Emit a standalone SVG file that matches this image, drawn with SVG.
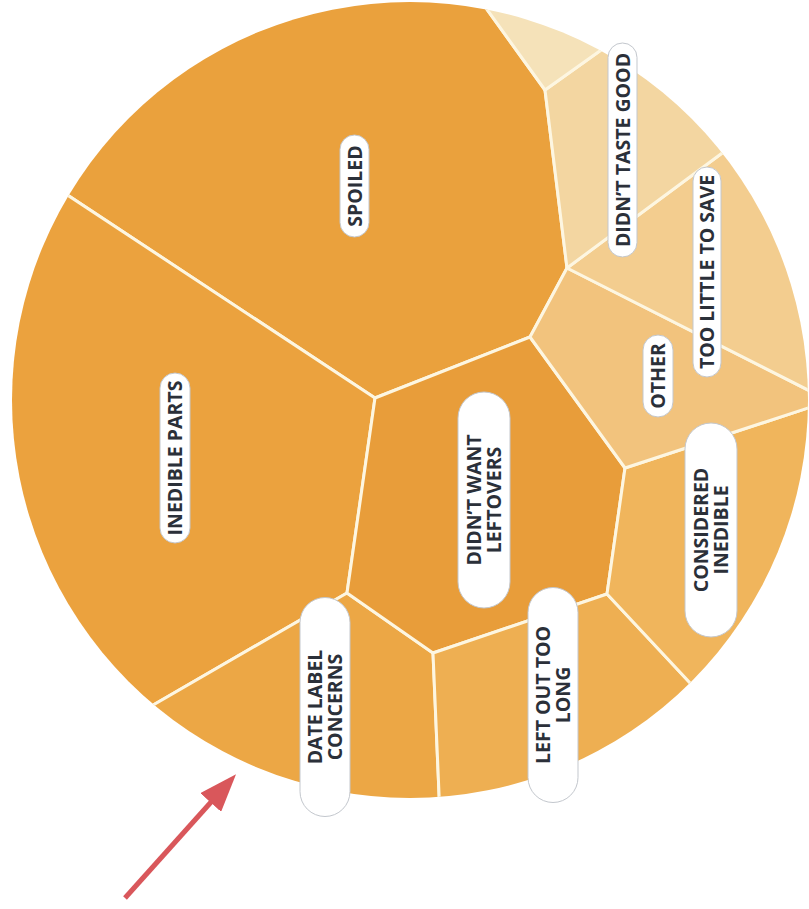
<svg xmlns="http://www.w3.org/2000/svg" width="809" height="909" viewBox="0 0 809 909">
  <style>
    .cell { stroke: #fdf6e1; stroke-width: 3; stroke-linejoin: round; }
    .pill { fill: #ffffff; stroke: #c3c7cd; stroke-width: 1; }
    .lbl { font-family: "Open Sans", "Noto Sans", "Liberation Sans", sans-serif; font-weight: 700; font-size: 19.5px; fill: #2b3039; text-anchor: middle; }
    .arrow { stroke: #d9575b; stroke-width: 5; fill: none; }
  </style>
  <defs>
    <clipPath id="disc">
      <circle cx="410" cy="400" r="398"/>
    </clipPath>
    <marker id="head" markerUnits="userSpaceOnUse" markerWidth="40" markerHeight="28" viewBox="0 0 40 28" refX="2" refY="14" orient="auto">
      <path d="M0,0 L38,14 L0,28 Z" fill="#d9575b"/>
    </marker>
  </defs>

  <rect width="809" height="909" fill="#ffffff"/>

  <!-- cells of the disc, each clipped to the circle -->
  <g clip-path="url(#disc)">
    <g id="spoiled">
      <polygon class="cell" fill="#eaa13d" points="31,171 375,398 530,337 567,268 545,90 473,-10 -10,-10 -10,171"/>
    </g>
    <g id="inedible-parts">
      <polygon class="cell" fill="#eba23e" points="31,171 375,398 347,593 110,730 -10,730 -10,171"/>
    </g>
    <g id="date-label-concerns">
      <polygon class="cell" fill="#eca745" points="347,593 433,653 441,840 110,840 110,730"/>
    </g>
    <g id="didnt-want-leftovers">
      <polygon class="cell" fill="#e89d3a" points="375,398 530,337 625,468 607,594 433,653 347,593"/>
    </g>
    <g id="left-out-too-long">
      <polygon class="cell" fill="#eeaf52" points="433,653 607,594 720,715 720,840 441,840"/>
    </g>
    <g id="considered-inedible">
      <polygon class="cell" fill="#f0b55c" points="625,468 815,405.7 840,405 840,715 720,715 607,594"/>
    </g>
    <g id="other">
      <polygon class="cell" fill="#f2c37d" points="567,268 815,393.5 815,405.7 625,468 530,337"/>
    </g>
    <g id="too-little-to-save">
      <polygon class="cell" fill="#f3cd8f" points="567,268 760,125 850,125 850,411.3"/>
    </g>
    <g id="didnt-taste-good">
      <polygon class="cell" fill="#f3d6a1" points="545,90 625,33 760,125 567,268"/>
    </g>
    <g id="small-top">
      <polygon class="cell" fill="#f5e2b9" points="473,-10 545,90 625,33 625,-10"/>
    </g>
  </g>

  <!-- labels, rotated to read bottom-to-top -->
  <g id="label-spoiled" transform="translate(354.5,186) rotate(-90)">
    <rect class="pill" x="-51" y="-14.5" width="102" height="29" rx="14.5"/>
    <text class="lbl" x="0" y="7">SPOILED</text>
  </g>
  <g id="label-didnt-taste-good" transform="translate(622.5,150) rotate(-90)">
    <rect class="pill" x="-107" y="-14.5" width="214" height="29" rx="14.5"/>
    <text class="lbl" x="0" y="7">DIDN’T TASTE GOOD</text>
  </g>
  <g id="label-too-little-to-save" transform="translate(707,272) rotate(-90)">
    <rect class="pill" x="-105" y="-14" width="210" height="28" rx="14"/>
    <text class="lbl" x="0" y="7">TOO LITTLE TO SAVE</text>
  </g>
  <g id="label-other" transform="translate(658,376) rotate(-90)">
    <rect class="pill" x="-41" y="-15" width="82" height="30" rx="15"/>
    <text class="lbl" x="0" y="7">OTHER</text>
  </g>
  <g id="label-considered-inedible" transform="translate(711,530) rotate(-90)">
    <rect class="pill" x="-107" y="-26" width="214" height="52" rx="26"/>
    <text class="lbl" x="0" y="-3.5">CONSIDERED</text>
    <text class="lbl" x="0" y="16.5">INEDIBLE</text>
  </g>
  <g id="label-didnt-want-leftovers" transform="translate(484,500) rotate(-90)">
    <rect class="pill" x="-108" y="-26" width="216" height="52" rx="26"/>
    <text class="lbl" x="0" y="-3.5">DIDN’T WANT</text>
    <text class="lbl" x="0" y="16.5">LEFTOVERS</text>
  </g>
  <g id="label-left-out-too-long" transform="translate(553,695) rotate(-90)">
    <rect class="pill" x="-107.5" y="-25" width="215" height="50" rx="25"/>
    <text class="lbl" x="0" y="-3.5">LEFT OUT TOO</text>
    <text class="lbl" x="0" y="16.5">LONG</text>
  </g>
  <g id="label-date-label-concerns" transform="translate(325,707) rotate(-90)">
    <rect class="pill" x="-109.5" y="-25" width="219" height="50" rx="25"/>
    <text class="lbl" x="0" y="-3.5">DATE LABEL</text>
    <text class="lbl" x="0" y="16.5">CONCERNS</text>
  </g>
  <g id="label-inedible-parts" transform="translate(175,458) rotate(-90)">
    <rect class="pill" x="-85" y="-15" width="170" height="30" rx="15"/>
    <text class="lbl" x="0" y="7">INEDIBLE PARTS</text>
  </g>

  <!-- pointer arrow -->
  <g id="connectors">
    <line class="arrow" x1="125" y1="898" x2="212" y2="801" marker-end="url(#head)"/>
  </g>
</svg>
